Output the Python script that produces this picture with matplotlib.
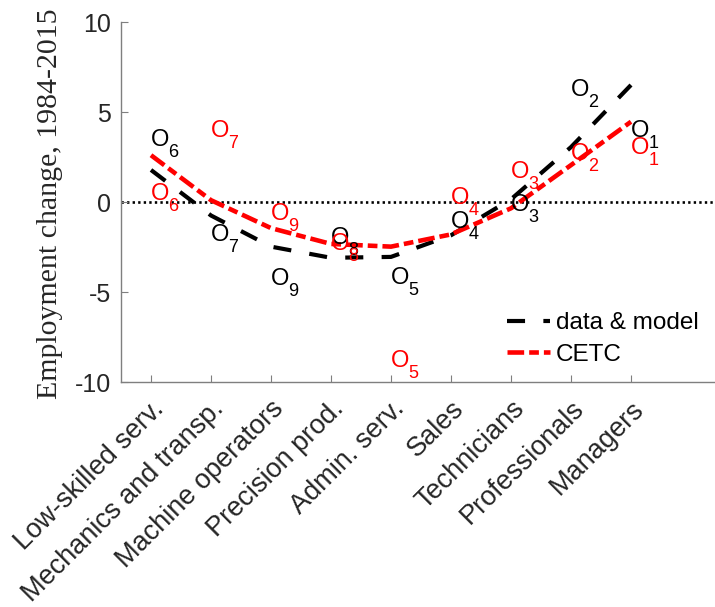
import matplotlib
matplotlib.use("Agg")
import matplotlib.pyplot as plt
import numpy as np

# occupations ordered by skill (x positions 1..9)
occupations = [
    "Low-skilled serv.", "Mechanics and transp.", "Machine operators",
    "Precision prod.", "Admin. serv.", "Sales", "Technicians",
    "Professionals", "Managers",
]
occ_ids = [6, 7, 9, 8, 5, 4, 3, 2, 1]

# observed changes (label positions)
data_obs = [3.58, -1.72, -4.14, -1.86, -4.08, -1.0, -0.03, 6.36, 4.06]
cetc_obs = [0.58, 4.08, -0.53, -2.19, -8.69, 0.36, 1.81, 2.81, 3.11]

# fitted curves
model_fit = [1.78, -0.75, -2.48, -3.1, -3.05, -1.85, 0.15, 3.05, 6.5]
cetc_fit = [2.6, 0.1, -1.45, -2.33, -2.48, -1.8, -0.35, 2.05, 4.46]

yticks = [-10, -5, 0, 5, 10]

plt.rcParams["font.family"] = ["Liberation Sans", "DejaVu Sans"]
plt.rcParams["lines.scale_dashes"] = False

fig = plt.figure(figsize=(7.15, 6.07), dpi=100)
W, H = 715, 607
ax = fig.add_axes([121 / W, (H - 382) / H, 600 / W, 360 / H])
ax.set_xlim(0.5, 10.5)
ax.set_ylim(-10, 10)

xs = list(range(1, len(occupations) + 1))

ax.axhline(0, color="k", lw=1.9, dashes=(1.7, 2.3), zorder=1)

# stretch the black gap a bit so the dashed curve ends on a dash
pts = ax.transData.transform(np.column_stack([xs, model_fit]))
length_pt = np.hypot(*np.diff(pts, axis=0).T).sum() * 72 / fig.dpi
on, off = 13.0, 14.0
n = max(1, round((length_pt - on) / (on + off)))
off = (length_pt - on) / n - on

ax.plot(xs, model_fit, color="k", lw=3.0, dashes=(on, off),
        dash_capstyle="butt", label="data & model", zorder=3)
ax.plot(xs, cetc_fit, color="red", lw=3.3, dashes=(12, 3.6, 7, 3.6),
        dash_capstyle="butt", label="CETC", zorder=3)


def put_label(x, y, n, color):
    ax.annotate("O", xy=(x, y), xytext=(0, -6.1), textcoords="offset points",
                ha="left", va="baseline", fontsize=17, color=color, zorder=4)
    ax.annotate(str(n), xy=(x, y), xytext=(12.4, -14), textcoords="offset points",
                ha="left", va="baseline", fontsize=13, color=color, zorder=4)


for x, y, n in zip(xs, data_obs, occ_ids):
    put_label(x, y, n, "k")
for x, y, n in zip(xs, cetc_obs, occ_ids):
    put_label(x, y, n, "red")

ax.set_yticks(yticks)
ax.set_yticklabels([str(v) for v in yticks])
ax.set_xticks(xs)
ax.set_xticklabels(occupations)

for side in ("top", "right"):
    ax.spines[side].set_visible(False)
for side in ("left", "bottom"):
    ax.spines[side].set_color("#7f7f7f")
    ax.spines[side].set_linewidth(1.0)

ax.tick_params(direction="in", length=5, width=0.8, color="#7f7f7f",
               labelcolor="#262626")
ax.tick_params(axis="y", labelsize=18, pad=7)
ax.tick_params(axis="x", labelsize=19.5, pad=10)
for lab in ax.get_xticklabels():
    lab.set_rotation(45)
    lab.set_ha("right")
    lab.set_va("top")
    lab.set_rotation_mode("anchor")

fig.text(50 / W, 1 - 204 / H, "Employment change, 1984-2015", rotation=90,
         ha="center", va="center", fontsize=21.5, family="Liberation Serif",
         color="#262626")

ax.legend(loc="upper left", bbox_to_anchor=(507 / W, 1 - 312 / H),
          bbox_transform=fig.transFigure, frameon=False, fontsize=17.5,
          handlelength=1.75, handletextpad=0.25, labelspacing=0.4,
          borderpad=0, borderaxespad=0)

fig.savefig("out.png", dpi=100)
